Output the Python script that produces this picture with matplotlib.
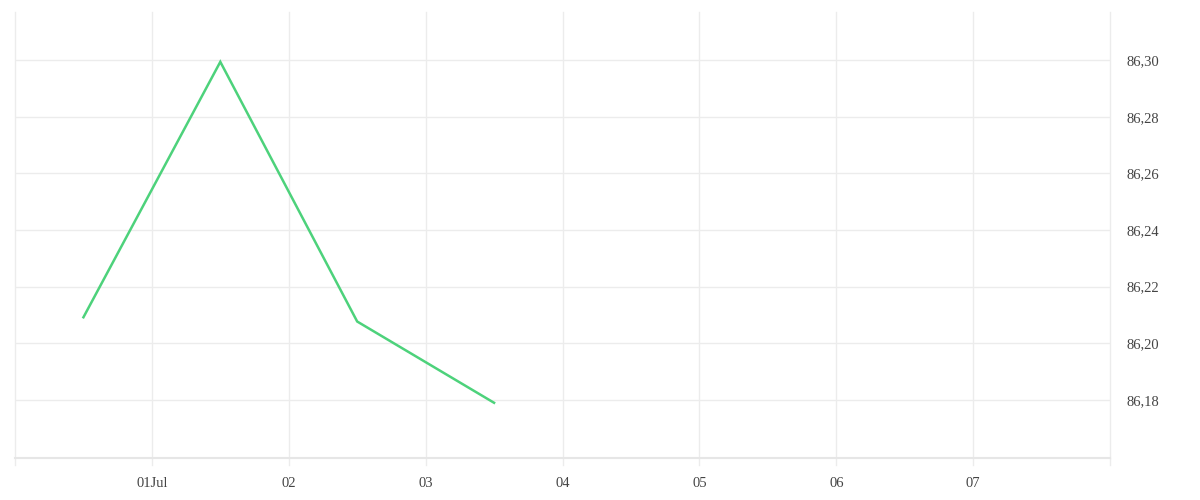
import numpy as np
import matplotlib
matplotlib.use("Agg")
import matplotlib.pyplot as plt
import matplotlib.dates as mdates
import matplotlib.ticker as mticker
from datetime import datetime

# data
times = [datetime(2024, 6, 30, 12), datetime(2024, 7, 1, 12), datetime(2024, 7, 2, 12), datetime(2024, 7, 3, 12)]
values = [86.2092, 86.2994, 86.2077, 86.1790]
y_ticks = [86.18, 86.20, 86.22, 86.24, 86.26, 86.28, 86.30]
x_ticks = [datetime(2024, 7, d) for d in range(1, 8)]
x_labels = ["01Jul", "02", "03", "04", "05", "06", "07"]

grid_c, text_c, line_c = "#ececec", "#444444", "#4dd27b"

fig = plt.figure(figsize=(12, 5), dpi=100)
ax = fig.add_axes([0.0125, 0.084, 0.9125, 0.892])

ax.plot(times, values, color=line_c, lw=1.8, solid_joinstyle="miter")

ax.set_xlim(datetime(2024, 6, 30), datetime(2024, 7, 8))
ax.set_ylim(86.1595, 86.317)

# vertical grid lines incl. the edges, extending down as tick marks
for d in range(30, 39):
    x = mdates.date2num(datetime(2024, 6, 30)) + (d - 30)
    ax.plot([x, x], [0, 1], transform=ax.get_xaxis_transform(), color=grid_c, lw=1, zorder=0, clip_on=False)
    ax.plot([x, x], [0, -0.016], transform=ax.get_xaxis_transform(), color=grid_c, lw=1, clip_on=False)
for y in y_ticks:
    ax.axhline(y, color=grid_c, lw=1, zorder=0)

for s in ["top", "left", "right"]: ax.spines[s].set_visible(False)
ax.spines["bottom"].set_color("#e6e6e6"); ax.spines["bottom"].set_linewidth(1.5)

ax.set_xticks([mdates.date2num(t) for t in x_ticks])
ax.set_xticklabels(x_labels)
ax.yaxis.tick_right()
ax.set_yticks(y_ticks)
ax.yaxis.set_major_formatter(mticker.FuncFormatter(lambda v, p: f"{v:.2f}".replace(".", ",")))
ax.tick_params(axis="x", length=0, pad=14, colors=text_c, labelsize=10.5)
ax.tick_params(axis="y", length=0, pad=12, colors=text_c, labelsize=10.5)
for lab in ax.get_xticklabels() + ax.get_yticklabels(): lab.set_family("Liberation Serif")

fig.savefig("out.png", dpi=100, facecolor="white")
